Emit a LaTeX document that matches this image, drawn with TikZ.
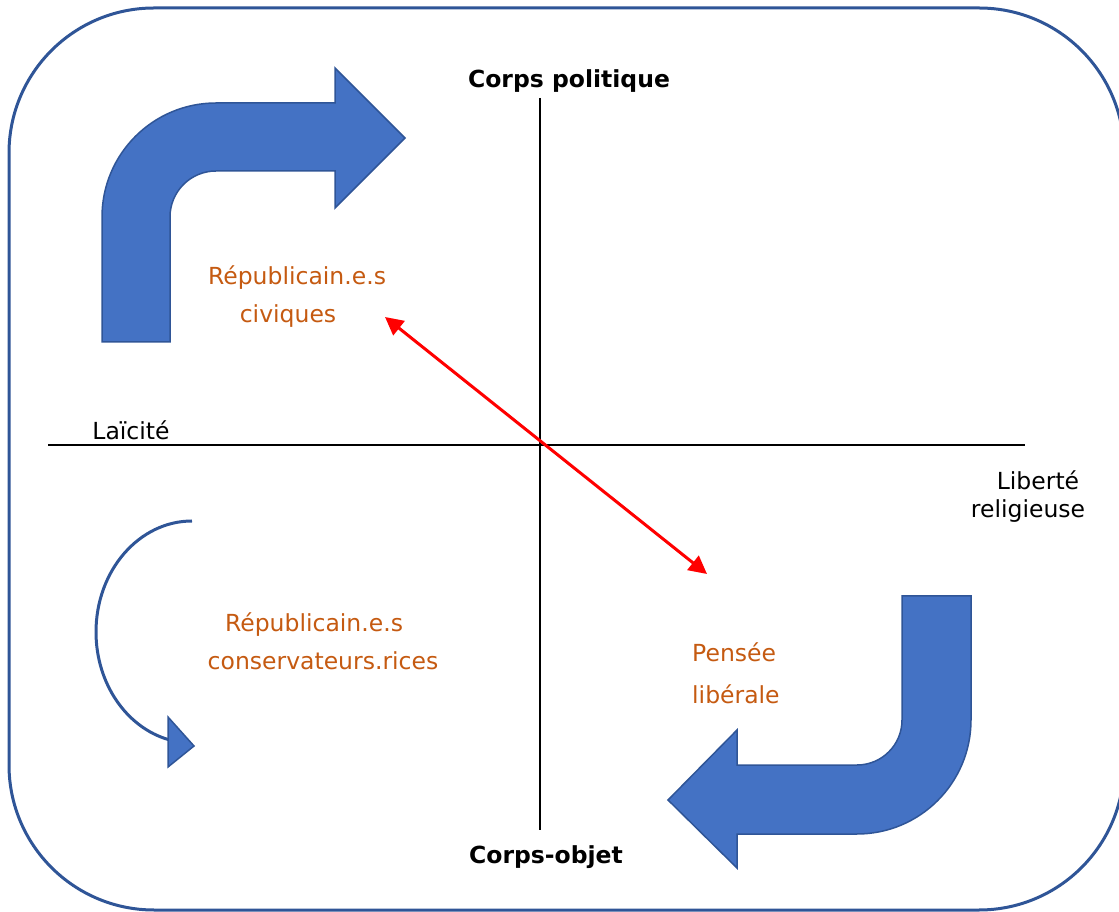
\documentclass[tikz,border=0pt]{standalone}
\usepackage{fontspec}
\setmainfont{DejaVu Sans}
\usetikzlibrary{arrows.meta}
\definecolor{blueF}{HTML}{4472C4}
\definecolor{blueD}{HTML}{2F5597}
\definecolor{orangeT}{HTML}{C55A11}
\begin{document}
\begin{tikzpicture}[x=1pt,y=1pt,
  txt/.style={font=\fontsize{23.5}{29}\selectfont, inner sep=0pt, anchor=base},
  axistitle/.style={txt, font=\fontsize{23.5}{29}\selectfont\bfseries},
  group/.style={txt, text=orangeT},
  axis/.style={black, line width=1.5pt},
  bigarrow/.style={fill=blueF, draw=blueD, line width=1.5pt, line join=miter},
  frame/.style={draw=blueD, line width=3pt},
  link/.style={red, line width=3pt, {Triangle[length=18pt,width=18pt]}-{Triangle[length=18pt,width=18pt]}}]
\useasboundingbox (0,0) rectangle (1119,911);
\begin{scope}
  \clip (0,0) rectangle (1119,911);
  \draw[frame] (154,903) -- (979,903) arc[start angle=90, end angle=0, radius=145]
    -- (1124,146) arc[start angle=0, end angle=-90, radius=145]
    -- (154,1) arc[start angle=270, end angle=180, radius=145]
    -- (9,758) arc[start angle=180, end angle=90, radius=145] -- cycle;
\end{scope}
% axes
\coordinate (vtop) at (540,813);
\coordinate (vbot) at (540,81);
\coordinate (hleft) at (48,466);
\coordinate (hright) at (1025,466);
\draw[axis] (vtop) -- (vbot);
\draw[axis] (hleft) -- (hright);
% axis labels
\node[axistitle] (cp) at (569,823) {Corps politique};
\node[axistitle] (co) at (546,48) {Corps-objet};
\node[txt] (lai) at (131,471) {Laïcité};
\node[txt] (lib1) at (1038,421) {Liberté};
\node[txt] (lib2) at (1028,393) {religieuse};
% group labels
\node[group] (rc1) at (297,626) {Républicain.e.s};
\node[group] (rc2) at (288,588) {civiques};
\node[group] (rs1) at (314,279) {Républicain.e.s};
\node[group] (rs2) at (323,241) {conservateurs.rices};
\node[group, anchor=base west] (pl1) at (692,249) {Pensée};
\node[group, anchor=base west] (pl2) at (692,208) {libérale};
% red double arrow
\coordinate (ra) at (385,594);
\coordinate (rb) at (707,337);
\draw[link] (ra) -- (rb);
% top-left bent arrow
\draw[bigarrow] (102,569) -- (102,694) arc[start angle=180, end angle=90, radius=114]
  -- (335,808) -- (335,843) -- (405,773) -- (335,703) -- (335,740) -- (216,740)
  arc[start angle=90, end angle=180, radius=46] -- (170,569) -- cycle;
% bottom-right bent arrow
\draw[bigarrow] (902,315) -- (902,191) arc[start angle=0, end angle=-90, radius=45]
  -- (737,146) -- (737,181) -- (668,111) -- (737,43) -- (737,77) -- (857,77)
  arc[start angle=-90, end angle=0, radius=114] -- (971,315) -- cycle;
% curved thin arrow
\draw[blueD, line width=3pt] (192,390) arc[start angle=90, end angle=256, x radius=96, y radius=111];
\draw[bigarrow] (168,194) -- (194,165) -- (168,144) -- cycle;
\end{tikzpicture}
\end{document}
